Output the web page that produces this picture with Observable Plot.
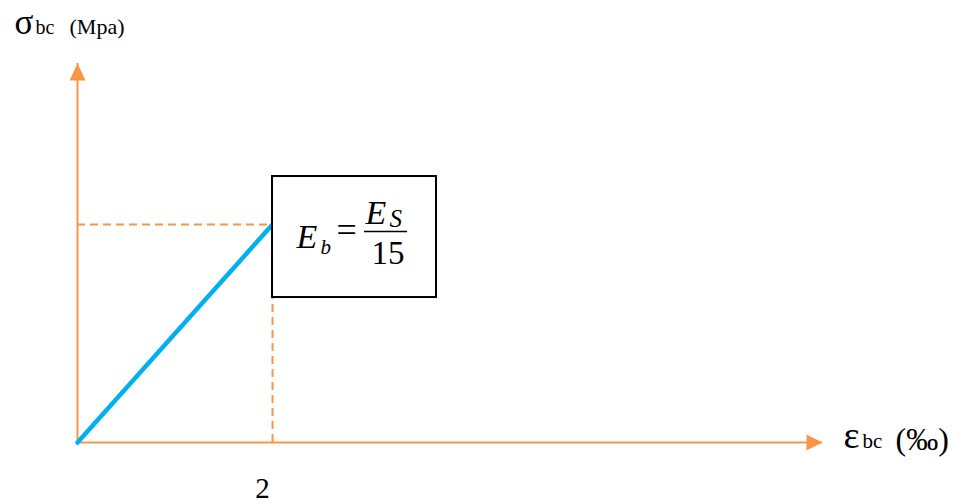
<!DOCTYPE html>
<html><head><meta charset="utf-8">
<script src="https://cdn.jsdelivr.net/npm/d3@7"></script>
<script src="https://cdn.jsdelivr.net/npm/@observablehq/plot@0.6"></script>
<style>html,body{margin:0;padding:0;background:#fff;} svg text{font-family:"Liberation Serif","Times New Roman",serif;}</style>
</head><body><div id="chart"></div>
<script>
// Data: linear elastic branch of concrete (σbc vs εbc)
const strain = [0, 2];        // εbc (‰)
const stress = [0, 14.2];     // σbc (MPa) – peak value (not labelled in the figure)
const xTickLabels = ["2"];
const axisMax = {x: 7.64, y: 24.69};

const pts = strain.map((e, i) => ({e, s: stress[i]}));
const peak = pts[pts.length - 1];

const ORANGE = "#F79646", BLUE = "#00B0F0";
const SERIF = "Liberation Serif";

// custom arrowhead symbols (tip at the anchor point)
const arrowUp = {draw(ctx) { ctx.moveTo(0, 0); ctx.lineTo(8, 17); ctx.lineTo(-8, 17); ctx.closePath(); }};
const arrowRight = {draw(ctx) { ctx.moveTo(0, 0); ctx.lineTo(-16, 8); ctx.lineTo(-16, -8); ctx.closePath(); }};

const txt = (t, o) => Plot.text([peak], {x: "e", y: "s", text: () => t, fontFamily: SERIF, textAnchor: "start", lineAnchor: "bottom", fill: "black", ...o});
const lbl = (t, anchor, o) => Plot.text([t], {frameAnchor: anchor, text: d => d, fontFamily: SERIF, textAnchor: "start", lineAnchor: "bottom", fill: "black", ...o});

const chart = Plot.plot({
  width: 954, height: 503,
  marginLeft: 77, marginRight: 132, marginTop: 63, marginBottom: 61,
  x: {domain: [0, axisMax.x], axis: null},
  y: {domain: [0, axisMax.y], axis: null},
  style: {background: "#fff", fontFamily: SERIF},
  marks: [
    // axes
    Plot.ruleY([0], {x1: 0, x2: axisMax.x, stroke: ORANGE, strokeWidth: 2}),
    Plot.ruleX([0], {y1: 0, y2: axisMax.y, stroke: ORANGE, strokeWidth: 2}),
    Plot.dot([{e: 0, s: axisMax.y}], {x: "e", y: "s", symbol: arrowUp, fill: ORANGE, stroke: null}),
    Plot.dot([{e: axisMax.x, s: 0}], {x: "e", y: "s", symbol: arrowRight, fill: ORANGE, stroke: null}),
    // dashed guides
    Plot.ruleY([peak], {x1: 0, x2: "e", y: "s", stroke: ORANGE, strokeWidth: 2, strokeDasharray: "8,5"}),
    Plot.ruleX([peak], {x: "e", y1: 0, y2: "s", stroke: ORANGE, strokeWidth: 2, strokeDasharray: "8,5"}),
    // elastic line
    Plot.line(pts, {x: "e", y: "s", stroke: BLUE, strokeWidth: 4.5, strokeLinecap: "round"}),
    // formula box
    Plot.rect([peak], {x1: "e", x2: "e", y1: "s", y2: "s", insetRight: -164, insetTop: -48, insetBottom: -73, fill: "white", stroke: "black", strokeWidth: 2}),
    txt("E", {dx: 24, dy: 23, fontSize: 34, fontStyle: "italic"}),
    txt("b", {dx: 48, dy: 29, fontSize: 21, fontStyle: "italic"}),
    txt("=", {dx: 64, dy: 17, fontSize: 36}),
    Plot.ruleY([peak], {x1: "e", x2: "e", y: "s", insetLeft: 92, insetRight: -135, dy: 7, stroke: "black", strokeWidth: 1.5}),
    txt("E", {dx: 93, dy: -1, fontSize: 34, fontStyle: "italic"}),
    txt("S", {dx: 117, dy: 2, fontSize: 25, fontStyle: "italic"}),
    txt("15", {dx: 99, dy: 39, fontSize: 33}),
    // x tick label
    Plot.text(xTickLabels, {x: d => +d, y: 0, text: d => d, dx: -10, dy: 55, fontSize: 29, fontFamily: SERIF, lineAnchor: "bottom", textAnchor: "middle", fill: "black"}),
    // axis labels
    lbl("σ", "top-left", {dx: -63, dy: -30, fontSize: 35}),
    lbl("bc", "top-left", {dx: -42, dy: -30, fontSize: 20}),
    lbl("(Mpa)", "top-left", {dx: -8, dy: -30, fontSize: 22}),
    lbl("ε", "bottom-right", {dx: 21, dy: 5, fontSize: 38}),
    lbl("bc", "bottom-right", {dx: 40, dy: 5, fontSize: 21}),
    lbl("(‰)", "bottom-right", {dx: 73, dy: 7, fontSize: 32})
  ]
});
document.getElementById("chart").appendChild(chart);
</script>
</body></html>
